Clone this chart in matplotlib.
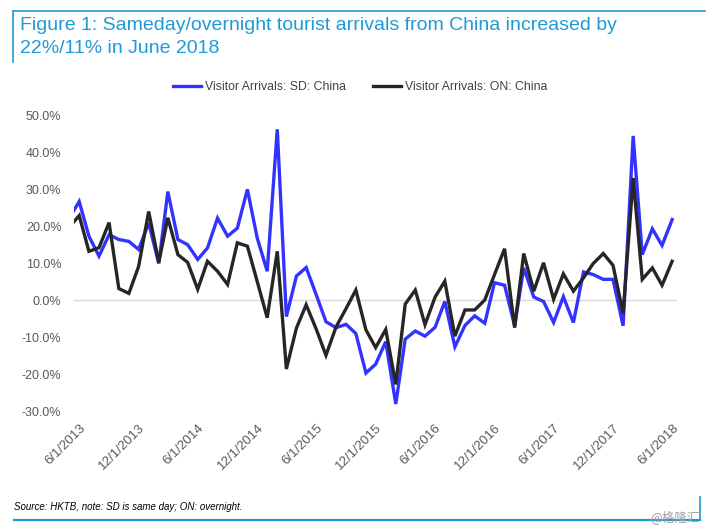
import numpy as np
import pandas as pd
import matplotlib
matplotlib.use("Agg")
import matplotlib.pyplot as plt
from matplotlib.lines import Line2D
from matplotlib.ticker import FuncFormatter

# monthly yoy growth (%), May 2013 .. Jun 2018
dates = pd.date_range("2013-05-01", "2018-06-01", freq="MS")

sd_china = [22.3, 26.8, 17.4, 12.0, 17.8, 16.5, 16.0, 13.8, 21.0, 10.0,
            29.5, 16.5, 15.1, 11.1, 14.2, 22.3, 17.4, 19.6, 30.1, 17.0,
            7.9, 46.4, -4.4, 6.6, 8.9, 1.5, -5.8, -7.4, -6.5, -9.0,
            -19.7, -17.3, -11.2, -28.1, -10.5, -8.3, -9.7, -7.3, -0.3, -12.6,
            -6.8, -4.2, -6.2, 4.8, 4.1, -6.9, 8.8, 0.9, -0.3, -6.0,
            1.0, -6.0, 7.7, 7.0, 5.7, 5.7, -6.9, 44.6, 12.4, 19.4,
            14.9, 21.9]

on_china = [19.8, 23.0, 13.3, 14.3, 21.1, 3.2, 1.9, 9.2, 24.1, 10.3,
            22.4, 12.4, 10.3, 3.0, 10.6, 7.9, 4.3, 15.6, 14.7, 5.2,
            -4.7, 13.3, -18.6, -7.5, -1.2, -7.8, -14.9, -7.2, -2.2, 2.8,
            -8.0, -12.8, -7.9, -22.8, -1.0, 2.8, -6.6, 0.9, 5.2, -9.7,
            -2.6, -2.6, 0.1, 7.0, 14.0, -7.4, 12.7, 2.5, 10.2, 0.3,
            7.2, 2.5, 6.1, 10.0, 12.7, 9.5, -3.5, 33.2, 5.7, 8.8,
            4.1, 10.6]

tick_dates = pd.date_range("2013-06-01", "2018-06-01", freq="6MS")
y_ticks = np.arange(-30, 51, 10)

title = ("Figure 1: Sameday/overnight tourist arrivals from China increased by\n"
         "22%/11% in June 2018")
source = "Source: HKTB, note: SD is same day; ON: overnight."

plt.rcParams["font.family"] = ["Liberation Sans", "DejaVu Sans"]
accent = "#1f9ad8"
grey = "#595959"

fig = plt.figure(figsize=(7.08, 5.31), dpi=100)
ax = fig.add_axes([74 / 708, 1 - 411 / 531, 603 / 708, 295 / 531])

ax.plot(dates, sd_china, color="#3333ff", lw=2.4, label="Visitor Arrivals: SD: China",
        solid_joinstyle="miter", zorder=3)
ax.plot(dates, on_china, color="#262626", lw=2.4, label="Visitor Arrivals: ON: China",
        solid_joinstyle="miter", zorder=4)
ax.axhline(0, color="#d9d9d9", lw=1, zorder=1)

ax.set_xlim(pd.Timestamp("2013-05-16"), pd.Timestamp("2018-06-16"))
ax.set_ylim(-30, 50)
ax.set_yticks(y_ticks)
ax.yaxis.set_major_formatter(FuncFormatter(lambda v, p: f"{v:.1f}%"))
ax.set_xticks(tick_dates)
ax.set_xticklabels([f"{d.month}/{d.day}/{d.year}" for d in tick_dates],
                   rotation=45, ha="right", rotation_mode="anchor")
ax.tick_params(axis="both", length=0, colors=grey)
ax.tick_params(axis="y", pad=9, labelsize=9)
ax.tick_params(axis="x", pad=8, labelsize=9.5)
for s in ax.spines.values():
    s.set_visible(False)

fig.legend(loc="center", bbox_to_anchor=(360 / 708, 1 - 87 / 531), ncol=2,
           frameon=False, fontsize=8.8, handlelength=2.3, handletextpad=0.3,
           columnspacing=2.2, labelcolor="#404040")

fig.text(20 / 708, 1 - 17 / 531, title, color=accent, fontsize=14,
         va="top", ha="left", linespacing=1.45)
fig.text(14 / 708, 1 - 507 / 531, source, fontsize=7, style="italic",
         va="center", ha="left")
fig.text(700 / 708, 1 - 517 / 531, "@格隆汇", color="#a0a0a0", fontsize=9,
         va="center", ha="right", family=["Noto Sans CJK SC", "DejaVu Sans"])

# report frame lines
fig.add_artist(Line2D([13 / 708, 705 / 708], [1 - 11 / 531, 1 - 11 / 531],
                      transform=fig.transFigure, color=accent, lw=1.2))
fig.add_artist(Line2D([13 / 708, 13 / 708], [1 - 11 / 531, 1 - 62 / 531],
                      transform=fig.transFigure, color=accent, lw=1.2))
fig.add_artist(Line2D([14 / 708, 700 / 708], [1 - 520 / 531, 1 - 520 / 531],
                      transform=fig.transFigure, color=accent, lw=1.6))
fig.add_artist(Line2D([700 / 708, 700 / 708], [1 - 497 / 531, 1 - 520 / 531],
                      transform=fig.transFigure, color=accent, lw=1.2))

fig.savefig("out.png", dpi=100)
